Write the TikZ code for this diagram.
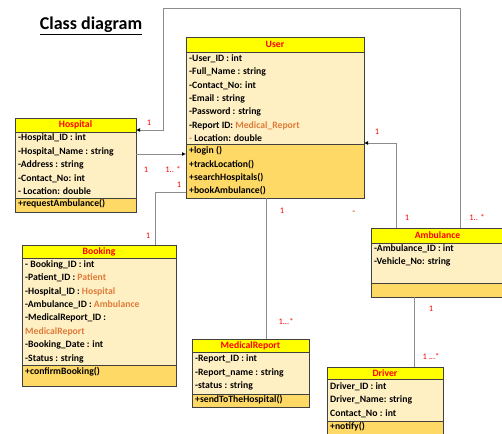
\documentclass[tikz,border=0pt]{standalone}
\usepackage{fontspec}
\setmainfont{Carlito}
\usepackage{tikz}
\usetikzlibrary{calc,positioning,arrows.meta}

\definecolor{headyellow}{HTML}{FFFF00}
\definecolor{attrfill}{HTML}{FFF0C4}
\definecolor{methfill}{HTML}{FFD966}
\definecolor{boxline}{HTML}{404040}
\definecolor{linkgray}{HTML}{8C8C8C}
\definecolor{typeorange}{HTML}{E07B39}

\newcommand{\otype}[1]{\textcolor{typeorange}{#1}}

\tikzset{
  classhead/.style={draw=boxline, fill=headyellow, outer sep=0pt, inner sep=0pt, text=red, font=\bfseries\fontsize{9.7}{11}\selectfont},
  classattr/.style={draw=boxline, fill=attrfill, outer sep=0pt, inner sep=0pt},
  classmeth/.style={draw=boxline, fill=methfill, outer sep=0pt, inner sep=0pt},
  members/.style={anchor=north west, inner xsep=3pt, inner ysep=2.2pt, align=left, font=\bfseries\fontsize{9.7}{13.4}\selectfont},
  link/.style={draw=linkgray, line width=1pt},
  linkarrow/.style={link, -{Latex[length=4pt,width=4pt,color=black]}},
  mult/.style={text=red, inner sep=0pt, font=\fontsize{8.5}{9}\selectfont}
}

\begin{document}
\begin{tikzpicture}[x=1pt, y=-1pt]
	\useasboundingbox (0,0) rectangle (502,433);
	\begin{scope}
		\node(title) [font=\bfseries\fontsize{18}{20}\selectfont] at (91,26) {\underline{Class diagram}};

		\node(userhead) [classhead, minimum width=178pt, minimum height=15pt, anchor=north west] at (186,37) {User};
		\node(userattr) [classattr, minimum width=178pt, minimum height=92pt, below=0pt of userhead] {};
		\node(usermeth) [classmeth, minimum width=178pt, minimum height=54pt, below=0pt of userattr] {};
		\node(userattrtext) [members] at (userattr.north west) {-User\_ID : int\\-Full\_Name : string\\-Contact\_No: int\\-Email : string\\-Password : string\\-Report ID: \otype{Medical\_Report}\\\otype{-} Location: double};
		\node(usermethtext) [members] at (usermeth.north west) {+login ()\\+trackLocation()\\+searchHospitals()\\+bookAmbulance()};

		\node(hosphead) [classhead, minimum width=121pt, minimum height=14pt, anchor=north west] at (15,118) {Hospital};
		\node(hospattr) [classattr, minimum width=121pt, minimum height=66pt, below=0pt of hosphead] {};
		\node(hospmeth) [classmeth, minimum width=121pt, minimum height=14pt, below=0pt of hospattr] {};
		\node(hospattrtext) [members, inner ysep=1.8pt] at (hospattr.north west) {-Hospital\_ID : int\\-Hospital\_Name : string\\-Address : string\\-Contact\_No: int\\- Location: double};
		\node(hospmethtext) [members, inner ysep=1.2pt] at (hospmeth.north west) {+requestAmbulance()};

		\node(bookhead) [classhead, minimum width=154pt, minimum height=13pt, anchor=north west] at (22,245) {Booking};
		\node(bookattr) [classattr, minimum width=154pt, minimum height=107pt, below=0pt of bookhead] {};
		\node(bookmeth) [classmeth, minimum width=154pt, minimum height=21pt, below=0pt of bookattr] {};
		\node(bookattrtext) [members] at (bookattr.north west) {- Booking\_ID : int\\-Patient\_ID : \otype{Patient}\\-Hospital\_ID : \otype{Hospital}\\-Ambulance\_ID : \otype{Ambulance}\\-MedicalReport\_ID :\\\otype{MedicalReport}\\-Booking\_Date : int\\-Status : string};
		\node(bookmethtext) [members] at (bookmeth.north west) {+confirmBooking()};

		\node(medhead) [classhead, minimum width=117pt, minimum height=13pt, anchor=north west] at (192,339) {MedicalReport};
		\node(medattr) [classattr, minimum width=117pt, minimum height=42pt, below=0pt of medhead] {};
		\node(medmeth) [classmeth, minimum width=117pt, minimum height=13pt, below=0pt of medattr] {};
		\node(medattrtext) [members, inner ysep=2.7pt] at (medattr.north west) {-Report\_ID : int\\-Report\_name : string\\-status : string};
		\node(medmethtext) [members, inner ysep=0.8pt] at (medmeth.north west) {+sendToTheHospital()};

		\node(ambhead) [classhead, minimum width=133pt, minimum height=15pt, anchor=north west] at (371,228) {Ambulance};
		\node(ambattr) [classattr, minimum width=133pt, minimum height=40pt, below=0pt of ambhead] {};
		\node(ambmeth) [classmeth, minimum width=133pt, minimum height=14pt, below=0pt of ambattr] {};
		\node(ambattrtext) [members, inner ysep=1.2pt] at (ambattr.north west) {-Ambulance\_ID : int\\-Vehicle\_No: string};

		\node(drivhead) [classhead, minimum width=116pt, minimum height=12pt, anchor=north west] at (327,367) {Driver};
		\node(drivattr) [classattr, minimum width=116pt, minimum height=42pt, below=0pt of drivhead] {};
		\node(drivmeth) [classmeth, minimum width=116pt, minimum height=15pt, below=0pt of drivattr] {};
		\node(drivattrtext) [members, inner ysep=3.5pt] at (drivattr.north west) {Driver\_ID : int\\Driver\_Name: string\\Contact\_No : int};
		\node(drivmethtext) [members, inner ysep=0.8pt] at (drivmeth.north west) {+notify()};

		\coordinate(topright) at (460,9);
		\coordinate(topleft) at (163,9);
		\draw[linkarrow] ([xshift=89pt]ambhead.north west) -- (topright) -- (topleft) |- ([yshift=2pt]hosphead.south east);
		\draw[linkarrow] (hospattr.east |- 0,154) -- ([yshift=-10pt]usermeth.north west);
		\draw[link] ([yshift=6pt]usermeth.south west) -| ([xshift=133pt]bookhead.north west);
		\draw[link] ([xshift=80pt]usermeth.south west) -- ([xshift=74pt]medhead.north west);
		\draw[linkarrow] ([xshift=25pt]ambhead.north west) |- ([yshift=1pt]userattr.south east);
		\draw[link] ([xshift=43pt]ambmeth.south west) -- ([xshift=87pt]drivhead.north west);

		\node(m1) [mult] at (149,123) {1};
		\node(m2) [mult] at (146,170) {1};
		\node(m3) [mult] at (173,170) {1.. *};
		\node(m4) [mult] at (179,185) {1};
		\node(m5) [mult] at (148,236) {1};
		\node(m6) [mult] at (282,211) {1};
		\node(m7) [mult] at (286,322) {1...*};
		\node(m8) [mult] at (377,132) {1};
		\node(m9) [mult] at (407,218) {1};
		\node(m10) [mult] at (477,218) {1.. *};
		\node(m11) [mult] at (431,309) {1};
		\node(m12) [mult] at (431,357) {1 ...*};
		\node(dash) [mult, text=typeorange, font=\bfseries\fontsize{10}{10}\selectfont] at (354,213) {-};
	\end{scope}
\end{tikzpicture}
\end{document}
